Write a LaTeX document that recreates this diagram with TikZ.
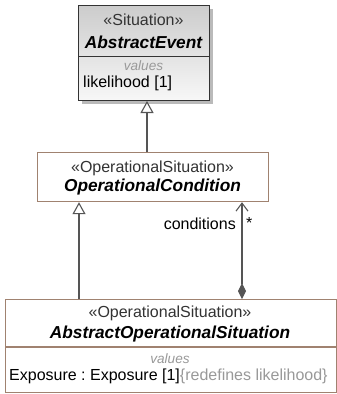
\documentclass[tikz,border=0pt]{standalone}
\usepackage{fontspec}
\setmainfont{Liberation Sans}
\usetikzlibrary{arrows.meta,shadows}
\definecolor{umlbrown}{HTML}{A08270}
\definecolor{linegray}{HTML}{555555}
\definecolor{stereogray}{HTML}{333333}
\definecolor{valgray}{HTML}{999999}
\frenchspacing
\begin{document}
\begin{tikzpicture}[x=1pt,y=-1pt,
  box/.style={draw=umlbrown, line width=1.2pt, fill=white, inner sep=0pt, anchor=north west},
  stereo/.style={font=\fontsize{16}{19}\selectfont, text=stereogray, inner sep=0pt},
  title/.style={font=\fontsize{17.3}{20}\selectfont\bfseries\itshape, inner sep=0pt},
  valuesl/.style={font=\fontsize{13.6}{16}\selectfont\itshape, text=valgray, inner sep=0pt},
  attr/.style={font=\fontsize{16}{19}\selectfont, inner sep=0pt, anchor=west},
  conn/.style={draw=linegray, line width=1.1pt},
  gen/.style={conn, -{Triangle[open, length=12pt, width=13pt, line width=1.1pt]}},
  assoc/.style={conn, {Diamond[length=16pt, width=8pt]}-{Straight Barb[length=8pt, width=12pt, line width=1.1pt]}},
  lbl/.style={font=\fontsize{16}{19}\selectfont, inner sep=0pt}
]
\useasboundingbox (0,0) rectangle (337,394);

% AbstractEvent
\node[draw=black!80, line width=1pt, inner sep=0pt, anchor=north west,
      minimum width=131pt, minimum height=95pt,
      top color=black!20, bottom color=black!3,
      drop shadow={shadow xshift=3.5pt, shadow yshift=-3.5pt, opacity=0.45, fill=black!60}]
      (ae) at (78,5) {};
\draw[draw=black!80, line width=1pt] (ae.west |- 0,56) -- (ae.east |- 0,56);
\node[stereo] (aest) at (143.5,20) {«Situation»};
\node[title] (aet) at (143.5,42) {AbstractEvent};
\node[valuesl] (aev) at (143.5,66) {values};
\node[attr] (aea) at (83,83) {likelihood [1]};

% OperationalCondition
\node[box, minimum width=231pt, minimum height=49pt] (oc) at (37,152) {};
\node[stereo] (ocst) at (152.5,168) {«OperationalSituation»};
\node[title] (oct) at (152.5,187) {OperationalCondition};

% AbstractOperationalSituation
\node[box, minimum width=331pt, minimum height=93pt] (aos) at (5,299) {};
\draw[draw=umlbrown, line width=1.2pt] (aos.west |- 0,347) -- (aos.east |- 0,347);
\node[stereo] (aosst) at (170,313) {«OperationalSituation»};
\node[title] (aost) at (170,334) {AbstractOperationalSituation};
\node[valuesl] (aosv) at (170,359) {values};
\node[attr] (aosa) at (9,376) {Exposure : Exposure [1]\textcolor{valgray}{\{redefines likelihood\}}};

% connectors
\draw[gen] (oc.north -| 147,0) -- (ae.south -| 147,0);
\draw[gen] (aos.north -| 79,0) -- (oc.south -| 79,0);
\draw[assoc] (aos.north -| 242,0) -- (oc.south -| 242,0);
\node[lbl, anchor=east] (cl) at (236,224) {conditions};
\node[lbl, anchor=west] (cm) at (246,223) {*};
\end{tikzpicture}
\end{document}
